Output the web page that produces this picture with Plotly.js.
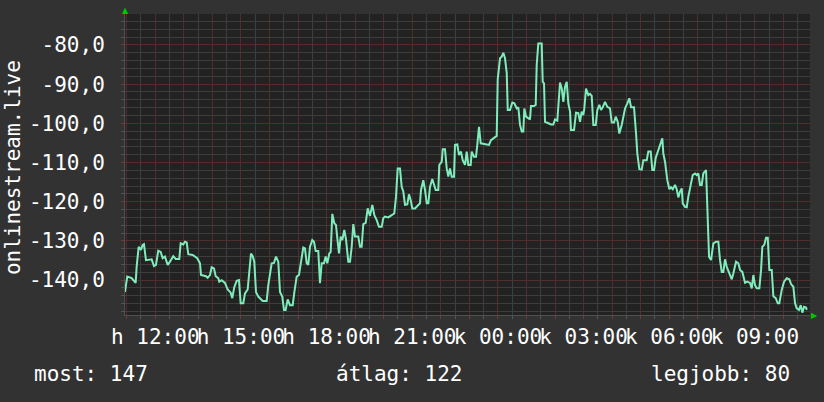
<!DOCTYPE html>
<html>
<head>
<meta charset="utf-8">
<script src="https://cdn.plot.ly/plotly-3.0.1.min.js"></script>
<style>
html,body{margin:0;padding:0;background:#323232;}
#chart{width:824px;height:402px;}
</style>
</head>
<body>
<div id="chart"></div>
<script>
// hours relative to 12:00 on day 1 (negative = before noon)
const hoursFrom12 = [
-1.061,-0.981,-0.827,-0.687,-0.652,-0.581,-0.501,-0.441,-0.396,-0.326,-0.126,-0.046,0.025,0.105,0.189,0.259,0.340,0.434,0.515,0.630,0.715,0.841,0.890,0.981,1.040,1.100,1.156,1.310,1.471,1.566,1.601,1.776,1.835,1.916,1.975,2.056,2.116,2.207,2.242,2.326,2.441,2.536,2.641,2.697,2.767,2.851,2.932,2.991,3.082,3.142,3.236,3.292,3.352,3.412,3.468,3.527,3.608,3.762,3.902,3.958,4.018,4.077,4.158,4.228,4.308,4.368,4.448,4.508,4.567,4.637,4.718,4.813,4.869,
4.953,5.033,5.103,5.184,5.243,5.303,5.359,5.419,5.499,5.559,5.618,5.709,5.769,5.828,5.909,5.968,6.025,6.095,6.144,6.200,6.270,6.329,6.375,6.434,6.494,6.550,6.620,6.680,6.760,6.820,6.879,6.935,6.995,7.110,7.170,7.229,7.285,7.370,7.440,7.520,7.601,7.671,7.755,7.835,7.930,7.986,8.046,8.161,8.280,8.371,8.431,8.490,8.571,8.630,8.687,8.746,8.827,8.886,8.946,9.002,9.096,9.191,9.271,9.306,9.387,9.447,9.506,9.562,9.622,9.702,9.772,9.821,9.912,9.947,10.032,10.067,10.147,10.207,10.263,10.322,10.382,10.462,10.497,10.578,10.637,10.707,10.767,10.848,10.907,10.963,11.047,
11.082,11.163,11.233,11.278,11.338,11.398,11.548,11.688,11.758,11.898,11.958,11.993,12.074,12.133,12.189,12.249,12.309,12.344,12.424,12.504,12.575,12.659,12.715,12.774,12.834,12.890,12.925,12.984,13.065,13.124,13.159,13.265,13.324,13.359,13.415,13.534,13.569,13.615,13.650,13.765,13.860,13.940,14.000,14.081,14.116,14.175,14.235,14.291,14.350,14.410,14.466,14.526,14.560,14.666,14.736,14.816,14.876,14.935,14.991,15.026,15.086,15.166,15.226,15.285,15.342,15.426,15.482,15.552,15.611,15.671,15.751,15.832,15.926,15.986,16.067,16.126,16.196,16.252,16.336,16.392,16.452,16.532,16.602,16.662,16.767,
16.837,16.883,16.953,17.037,17.093,17.212,17.268,17.352,17.408,17.468,17.527,17.618,17.678,17.758,17.793,17.853,17.933,18.004,18.063,18.123,18.203,18.263,18.319,18.378,18.438,18.473,18.553,18.613,18.669,18.753,18.823,18.904,18.963,19.019,19.079,19.138,19.194,19.289,19.335,19.394,19.464,19.545,19.639,19.720,19.779,19.839,19.895,19.954,20.014,20.095,20.189,20.245,20.340,20.420,20.480,20.560,20.655,20.736,20.830,20.890,20.946,21.005,21.065,21.156,21.216,21.261,21.331,21.391,21.450,21.506,21.590,21.646,21.730,21.800,21.856,21.940,22.021,22.116,22.207,22.266,22.347,22.406,22.466,22.546,22.606,22.662,22.722,22.792,22.817
];
const online = [
-143.0,-139.1,-139.5,-140.7,-136.6,-131.5,-132.3,-131.0,-130.8,-134.9,-134.7,-136.4,-136.1,-132.5,-132.8,-134.4,-134.0,-136.1,-135.3,-133.9,-134.6,-134.6,-130.6,-130.9,-130.2,-130.4,-133.4,-133.6,-134.4,-135.7,-138.7,-139.0,-139.4,-138.7,-136.7,-137.0,-139.0,-139.5,-140.4,-140.0,-140.7,-142.4,-143.2,-144.6,-141.8,-140.2,-140.0,-145.9,-145.9,-143.4,-142.4,-137.4,-133.2,-133.9,-135.3,-143.0,-144.2,-145.3,-145.3,-141.3,-138.3,-135.7,-135.6,-134.0,-135.3,-143.0,-144.2,-147.6,-147.6,-144.9,-146.4,-146.4,-143.2,
-139.1,-138.7,-134.9,-131.7,-131.9,-135.7,-136.1,-131.5,-129.8,-130.2,-132.6,-132.6,-140.8,-135.7,-135.7,-134.0,-135.7,-133.2,-132.8,-123.1,-125.5,-125.9,-129.3,-133.2,-128.9,-129.8,-127.2,-129.6,-135.3,-135.3,-131.5,-125.7,-128.9,-128.9,-131.5,-131.5,-125.7,-125.4,-121.7,-123.6,-120.8,-123.4,-124.7,-126.4,-126.4,-124.2,-123.8,-124.0,-123.4,-123.0,-118.7,-111.5,-111.5,-116.2,-117.4,-120.8,-120.7,-118.1,-119.6,-121.7,-121.7,-121.1,-120.4,-117.0,-114.5,-117.0,-120.4,-120.4,-116.2,-114.2,-115.7,-117.0,-117.0,-110.6,-109.8,-106.6,-106.6,-111.5,-113.6,-111.5,-113.6,-113.6,-105.5,-105.4,-108.1,-107.2,-109.4,-110.6,-107.2,-110.6,-110.6,
-107.2,-108.5,-108.5,-105.5,-100.9,-105.1,-105.3,-105.5,-104.3,-103.6,-103.2,-88.8,-83.4,-83.0,-82.0,-83.4,-87.2,-96.6,-96.6,-94.7,-94.9,-96.2,-95.9,-100.4,-102.1,-102.1,-96.2,-98.3,-98.7,-99.0,-95.6,-95.6,-95.3,-85.1,-79.6,-79.6,-89.4,-89.8,-99.6,-100.0,-100.3,-100.3,-99.0,-99.3,-94.5,-89.6,-91.1,-94.5,-90.7,-89.4,-94.9,-97.0,-101.7,-101.7,-97.3,-97.4,-99.6,-97.0,-97.9,-96.2,-91.1,-92.8,-92.5,-93.0,-100.4,-100.4,-96.6,-95.3,-96.6,-95.9,-94.5,-95.8,-96.2,-99.8,-99.8,-98.3,-99.6,-102.6,-100.4,-98.1,-96.2,-94.9,-93.6,-95.9,-95.9,
-102.5,-107.7,-111.7,-111.8,-109.4,-109.4,-107.2,-107.2,-111.9,-111.9,-108.8,-106.8,-106.0,-103.8,-107.7,-109.8,-114.5,-116.8,-116.3,-116.8,-115.7,-116.8,-118.9,-117.4,-116.6,-120.4,-121.3,-121.4,-118.7,-115.7,-113.2,-112.8,-113.2,-112.8,-115.7,-115.7,-112.8,-111.9,-121.7,-134.0,-134.9,-130.6,-130.2,-130.2,-134.9,-137.9,-137.9,-134.7,-136.6,-138.3,-139.8,-138.3,-135.3,-135.7,-137.4,-137.9,-140.7,-140.4,-140.7,-142.1,-138.7,-141.3,-142.1,-142.1,-137.4,-131.5,-131.0,-129.2,-129.2,-137.4,-137.4,-144.1,-144.6,-145.9,-145.9,-142.5,-140.4,-139.5,-139.8,-141.0,-141.7,-145.9,-147.2,-147.6,-146.4,-148.3,-146.8,-147.0,-147.6
];

const yTickVals = [-140, -130, -120, -110, -100, -90, -80];
const yTickText = ['-140,0', '-130,0', '-120,0', '-110,0', '-100,0', '-90,0', '-80,0'];
const yMinorVals = [-148,-146,-144,-142,-138,-136,-134,-132,-128,-126,-124,-122,-118,-116,-114,-112,-108,-106,-104,-102,-98,-96,-94,-92,-88,-86,-84,-82,-78,-76,-74];
const xTickVals = [-1,0,1,2,3,4,5,6,7,8,9,10,11,12,13,14,15,16,17,18,19,20,21,22];
const xTickText = ['','h 12:00','','','h 15:00','','','h 18:00','','','h 21:00','','','k 00:00','','','k 03:00','','','k 06:00','','','k 09:00',''];
const xMinorVals = [-0.5,0.5,1.5,2.5,3.5,4.5,5.5,6.5,7.5,8.5,9.5,10.5,11.5,12.5,13.5,14.5,15.5,16.5,17.5,18.5,19.5,20.5,21.5,22.5];
const yTitle = 'onlinestream.live';
const legendTexts = ['most: 147', 'átlag: 122', 'legjobb: 80'];

const FONT = 'DejaVu Sans Mono';
const FS = 21;
const X_RANGE = [-1.06, 22.93];
const Y_RANGE = [-148.9, -72.1];
const majorGrid = '#552c2c';
const minorGrid = '#3d3d3d';

const trace = {
  x: hoursFrom12, y: online, type: 'scatter', mode: 'lines',
  line: {color: '#7fecbc', width: 2, shape: 'linear'},
  hoverinfo: 'skip'
};
// empty trace so the half-hour / 2-unit grid axes are drawn
const gridHolder = {x: [], y: [], type: 'scatter', mode: 'lines', xaxis: 'x2', yaxis: 'y2', hoverinfo: 'skip'};

const layout = {
  width: 824, height: 402,
  margin: {l: 125, r: 14, t: 14, b: 87, pad: 0},
  paper_bgcolor: '#323232', plot_bgcolor: '#222222',
  showlegend: false,
  font: {family: FONT, size: FS, color: '#ffffff'},
  xaxis2: {
    range: X_RANGE, overlaying: 'x', anchor: 'y2', tickmode: 'array', tickvals: xMinorVals,
    showticklabels: false, showgrid: true, gridcolor: minorGrid, gridwidth: 1,
    ticks: 'outside', ticklen: 3, tickcolor: '#555555', zeroline: false, showline: false, fixedrange: true
  },
  yaxis2: {
    range: Y_RANGE, overlaying: 'y', anchor: 'x2', tickmode: 'array', tickvals: yMinorVals,
    showticklabels: false, showgrid: true, gridcolor: minorGrid, gridwidth: 1,
    ticks: 'outside', ticklen: 3, tickcolor: '#555555', zeroline: false, showline: false, fixedrange: true
  },
  xaxis: {
    range: X_RANGE, tickmode: 'array', tickvals: xTickVals, ticktext: xTickText,
    tickangle: 0, showgrid: true, gridcolor: majorGrid, gridwidth: 1,
    ticks: 'outside', ticklen: 3, tickcolor: '#7a3535', tickwidth: 1,
    showline: true, linecolor: '#505050', linewidth: 1, zeroline: false,
    tickfont: {family: FONT, size: FS, color: '#ffffff'}, fixedrange: true
  },
  yaxis: {
    range: Y_RANGE, tickmode: 'array', tickvals: yTickVals, ticktext: yTickText,
    showgrid: true, gridcolor: majorGrid, gridwidth: 1,
    ticks: 'outside', ticklen: 3, tickcolor: '#7a3535', tickwidth: 1,
    showline: true, linecolor: '#505050', linewidth: 1, zeroline: false,
    ticklabelstandoff: 12,
    tickfont: {family: FONT, size: FS, color: '#ffffff'}, fixedrange: true
  },
  annotations: [
    {text: yTitle, xref: 'paper', yref: 'paper', x: -0.1635, y: 0.488, textangle: -90,
     showarrow: false, xanchor: 'center', yanchor: 'middle', font: {family: FONT, size: FS, color: '#ffffff'}},
    {text: legendTexts[0], xref: 'paper', yref: 'paper', x: -0.136, y: -0.195, xanchor: 'left', yanchor: 'middle',
     showarrow: false, font: {family: FONT, size: FS, color: '#ffffff'}},
    {text: legendTexts[1], xref: 'paper', yref: 'paper', x: 0.305, y: -0.195, xanchor: 'left', yanchor: 'middle',
     showarrow: false, font: {family: FONT, size: FS, color: '#ffffff'}},
    {text: legendTexts[2], xref: 'paper', yref: 'paper', x: 0.974, y: -0.195, xanchor: 'right', yanchor: 'middle',
     showarrow: false, font: {family: FONT, size: FS, color: '#ffffff'}},
    {text: '▲', xref: 'paper', yref: 'paper', x: 0, y: 1, xanchor: 'center', yanchor: 'bottom', yshift: -3,
     showarrow: false, font: {family: 'DejaVu Sans', size: 8, color: '#00c800'}},
    {text: '▶', xref: 'paper', yref: 'paper', x: 1, y: 0, xanchor: 'left', yanchor: 'middle', xshift: -1,
     showarrow: false, font: {family: 'DejaVu Sans', size: 8, color: '#00c800'}}
  ]
};

Plotly.newPlot('chart', [gridHolder, trace], layout, {staticPlot: true, displayModeBar: false});
</script>
</body>
</html>
